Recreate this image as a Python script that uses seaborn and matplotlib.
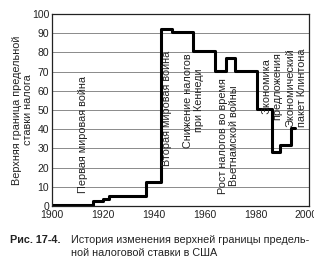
import matplotlib
matplotlib.use("Agg")
import matplotlib.pyplot as plt
import seaborn as sns
import pandas as pd
from matplotlib.ticker import MultipleLocator

sns.set_theme(style="white")
plt.rcParams['font.family'] = ['Liberation Sans', 'DejaVu Sans']

years = [1900, 1916, 1920, 1922.5, 1937, 1943, 1947, 1955.5, 1964, 1968.5, 1972, 1980.5, 1986.5, 1989.5, 1994, 1995.5]
rates = [0.5, 2.5, 3.5, 5, 12.5, 92, 90.5, 80.5, 70.5, 77, 70.5, 50.5, 28, 32, 40.5, 40.5]

x_ticks = [1900, 1920, 1940, 1960, 1980, 2000]
y_ticks = [0, 10, 20, 30, 40, 50, 60, 70, 80, 90, 100]

events = [
    (1912, 7, "Первая мировая война", "bottom"),
    (1945, 21, "Вторая мировая война", "bottom"),
    (1955.7, 55, "Снижение налогов\nпри Кеннеди", "center"),
    (1969.5, 36.5, "Рост налогов во время\nВьетнамской войны", "center"),
    (1986.4, 62.5, "Экономика\nпредложения", "center"),
    (1996.0, 61.5, "Экономический\nпакет Клинтона", "center"),
]

ylabel = "Верхняя граница предельной\nставки налога"
caption_bold = "Рис. 17-4."
caption_l1 = "История изменения верхней границы предель-"
caption_l2 = "ной налоговой ставки в США"

df = pd.DataFrame({"year": years, "rate": rates})

fig = plt.figure(figsize=(3.14, 2.57), dpi=100)
ax = fig.add_axes([52/314, 1-206/257, 257/314, 192/257])

sns.lineplot(data=df, x="year", y="rate", ax=ax, estimator=None, sort=False,
             drawstyle="steps-post", color="black", linewidth=2.2)

ax.set_xlim(1900, 2001)
ax.set_ylim(0, 100)
ax.set_xticks(x_ticks)
ax.set_yticks(y_ticks)
ax.xaxis.set_minor_locator(MultipleLocator(10))
ax.yaxis.set_minor_locator(MultipleLocator(5))
ax.tick_params(axis="both", which="both", direction="in", colors="#222222",
               labelsize=7.5, width=0.8)
ax.tick_params(which="major", length=4, pad=2)
ax.tick_params(which="minor", length=2.5)
ax.tick_params(axis="x", pad=3)
ax.grid(axis="y", which="major", color="#777777", linewidth=0.6)
for s in ax.spines.values():
    s.set_color("#222222")
    s.set_linewidth(0.9)
    s.set_visible(True)

ax.set_xlabel("")
ax.set_ylabel(ylabel, fontsize=7.8, color="#222222", linespacing=1.15)
ax.yaxis.set_label_coords(-0.075, 0.5)

for x, y, t, va in events:
    ax.text(x, y, t, rotation=90, ha="center", va=va, fontsize=7.8,
            color="#222222", multialignment="center", linespacing=1.15)

fig.text(10/314, 1-240/257, caption_bold, fontsize=7.8, fontweight="bold",
         va="center", ha="left", color="#222222")
fig.text(71/314, 1-240/257, caption_l1, fontsize=7.8, va="center", ha="left",
         color="#222222")
fig.text(71/314, 1-253/257, caption_l2, fontsize=7.8, va="center", ha="left",
         color="#222222")

fig.savefig("out.png", dpi=100)
